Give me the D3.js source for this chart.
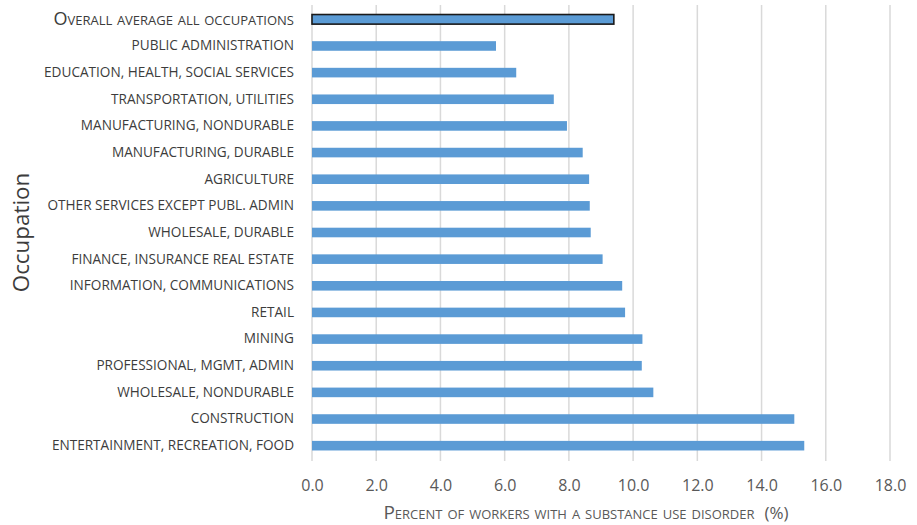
<!DOCTYPE html>
<html>
<head>
<meta charset="utf-8">
<script src="https://cdn.jsdelivr.net/npm/d3@7"></script>
<style>
  body { margin: 0; background: #fff; }
  text { font-family: "Open Sans", sans-serif; }
</style>
</head>
<body>
<svg id="chart" width="917" height="525"></svg>
<script>
// occupations, top to bottom
const occupations = [
  'Overall average all occupations',
  'PUBLIC ADMINISTRATION',
  'EDUCATION, HEALTH, SOCIAL SERVICES',
  'TRANSPORTATION, UTILITIES',
  'MANUFACTURING, NONDURABLE',
  'MANUFACTURING, DURABLE',
  'AGRICULTURE',
  'OTHER SERVICES EXCEPT PUBL. ADMIN',
  'WHOLESALE, DURABLE',
  'FINANCE, INSURANCE REAL ESTATE',
  'INFORMATION, COMMUNICATIONS',
  'RETAIL',
  'MINING',
  'PROFESSIONAL, MGMT, ADMIN',
  'WHOLESALE, NONDURABLE',
  'CONSTRUCTION',
  'ENTERTAINMENT, RECREATION, FOOD'
]
// percent of workers with a substance use disorder
const percents = [9.40, 5.73, 6.36, 7.53, 7.94, 8.43, 8.63, 8.65, 8.68, 9.05,
  9.66, 9.75, 10.29, 10.27, 10.63, 15.02, 15.33]
const xTicks = [0, 2, 4, 6, 8, 10, 12, 14, 16, 18]

const data = occupations.map((name, i) => ({ name, value: percents[i] }))

const svg = d3.select('#chart')
const plotLeft = 312, plotRight = 890, plotTop = 6, plotBottom = 459

const barColor = '#5b9bd5'
const gridColor = '#d9d9d9'
const textColor = '#3c3c3c'

const xScale = d3.scaleLinear()
  .domain([0, 18])
  .range([plotLeft, plotRight])

const yScale = d3.scaleBand()
  .domain(occupations)
  .range([plotTop, plotBottom])
  .paddingInner(0.64)
  .paddingOuter(0.32)

// vertical gridlines
svg.append('g')
  .selectAll('line')
  .data(xTicks)
  .enter()
  .append('line')
    .attr('x1', d => xScale(d))
    .attr('x2', d => xScale(d))
    .attr('y1', plotTop - 1)
    .attr('y2', plotBottom + 2)
    .style('stroke', gridColor)
    .style('stroke-width', 1.5)

// x tick labels
const xAxis = d3.axisBottom(xScale)
  .tickValues(xTicks)
  .tickFormat(d3.format('.1f'))
  .tickSize(0)
  .tickPadding(19)

const xg = svg.append('g')
  .attr('transform', `translate(0, ${plotBottom + 2})`)
  .call(xAxis)
xg.select('.domain').remove()
xg.selectAll('.tick text')
  .style('font-size', '16px')
  .style('font-family', '"Open Sans", sans-serif')
  .attr('fill', '#595959')

// y axis category labels
const yAxis = d3.axisLeft(yScale).tickSize(0).tickPadding(18)
const yg = svg.append('g')
  .attr('transform', `translate(${plotLeft}, 0)`)
  .call(yAxis)
yg.select('.domain').remove()
yg.selectAll('.tick text')
  .style('font-family', '"Open Sans", sans-serif')
  .style('font-size', '13.6px')
  .attr('fill', textColor)
yg.selectAll('.tick text')
  .filter((d, i) => i === 0)
  .style('font-variant', 'small-caps')
  .style('font-size', '18px')

// bars
svg.append('g')
  .selectAll('rect')
  .data(data)
  .enter()
  .append('rect')
    .attr('x', xScale(0))
    .attr('y', d => yScale(d.name))
    .attr('width', d => xScale(d.value) - xScale(0))
    .attr('height', yScale.bandwidth())
    .attr('fill', barColor)
    .style('stroke', (d, i) => i === 0 ? '#1a1a1a' : 'none')
    .style('stroke-width', 1.6)

// axis titles
svg.append('text')
  .attr('text-anchor', 'middle')
  .attr('transform', `translate(29, ${(plotTop + plotBottom) / 2}) rotate(-90)`)
  .style('font-size', '22.4px')
  .attr('fill', textColor)
  .text('Occupation')

const xTitle = svg.append('text')
  .attr('text-anchor', 'middle')
  .attr('x', 586)
  .attr('y', 519)
  .style('font-size', '19px')
  .style('font-variant', 'small-caps')
  .attr('fill', '#595959')
xTitle.append('tspan').text('Percent of workers with a substance use disorder')
xTitle.append('tspan')
  .style('font-variant', 'normal')
  .style('font-size', '17px')
  .attr('dx', 10)
  .text('(%)')
</script>
</body>
</html>
